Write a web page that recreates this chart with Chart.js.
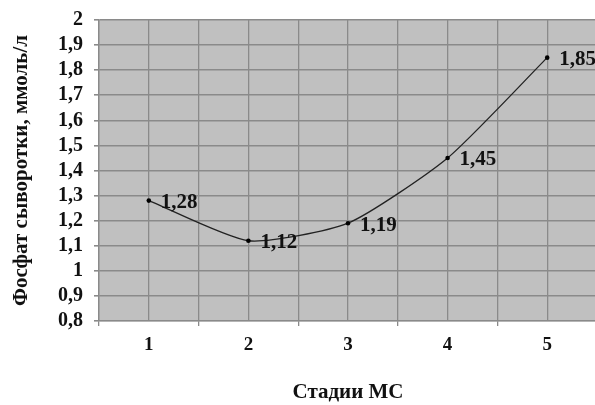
<!DOCTYPE html>
<html>
<head>
<meta charset="utf-8">
<script src="https://cdn.jsdelivr.net/npm/chart.js@4/dist/chart.umd.min.js"></script>
<style>
  html, body { margin: 0; padding: 0; background: #fff; overflow: hidden; }
  #wrap { position: relative; width: 602px; height: 405px; }
</style>
</head>
<body>
<div id="wrap"><canvas id="c"></canvas></div>
<script>
// Stages of the disease and the mean serum phosphate at each stage
const stages = [1, 2, 3, 4, 5];
const phosphate = [1.28, 1.12, 1.19, 1.45, 1.85];
const yTicks = [0.8, 0.9, 1.0, 1.1, 1.2, 1.3, 1.4, 1.5, 1.6, 1.7, 1.8, 1.9, 2.0];

const FONT = '"Liberation Serif", "Times New Roman", serif';
const fmt = v => String(Math.round(v * 100) / 100).replace('.', ',');

// Grey plotting area behind the grid
const plotBg = {
  id: 'plotBg',
  beforeDraw(chart) {
    const { ctx, chartArea: a } = chart;
    ctx.save();
    ctx.fillStyle = '#c0c0c0';
    ctx.fillRect(a.left, a.top, a.right - a.left, a.bottom - a.top);
    ctx.restore();
  }
};

// Value written to the right of each point
const valueLabels = {
  id: 'valueLabels',
  afterDatasetsDraw(chart) {
    const { ctx } = chart;
    const meta = chart.getDatasetMeta(0);
    ctx.save();
    ctx.font = 'bold 21px ' + FONT;
    ctx.fillStyle = '#111';
    ctx.textAlign = 'left';
    ctx.textBaseline = 'middle';
    meta.data.forEach((pt, i) => {
      ctx.fillText(fmt(phosphate[i]), pt.x + 12, pt.y + 2);
    });
    ctx.restore();
  }
};

new Chart(document.getElementById('c'), {
  type: 'line',
  data: {
    datasets: [{
      data: stages.map((s, i) => ({ x: s, y: phosphate[i] })),
      borderColor: '#222',
      borderWidth: 1.3,
      pointRadius: 2.3,
      pointBackgroundColor: '#000',
      pointBorderColor: '#000',
      pointBorderWidth: 0,
      tension: 0.2,
      fill: false
    }]
  },
  options: {
    responsive: true,
    maintainAspectRatio: false,
    animation: false,
    events: [],
    layout: { padding: { top: 20, right: 5, left: 0, bottom: 0 } },
    plugins: { legend: { display: false }, tooltip: { enabled: false } },
    scales: {
      x: {
        type: 'linear',
        min: 0.5,
        max: 5.5,
        afterBuildTicks(scale) {
          const t = [];
          for (let v = 0.5; v <= 5.5001; v += 0.5) t.push({ value: Math.round(v * 10) / 10 });
          scale.ticks = t;
        },
        afterFit(scale) {
          scale.height = 84;
          scale.paddingLeft = 0;
          scale.paddingRight = 0;
        },
        grid: {
          color: '#8a8a8a',
          lineWidth: 1.3,
          tickLength: 5,
          tickColor: ctx => (ctx.tick && Number.isInteger(ctx.tick.value)) ? 'rgba(0,0,0,0)' : '#8a8a8a'
        },
        border: { color: '#8a8a8a', width: 1.3 },
        ticks: {
          autoSkip: false,
          maxRotation: 0,
          padding: 8,
          color: '#111',
          font: { family: FONT, size: 19, weight: 'bold' },
          callback: v => Number.isInteger(v) ? String(v) : ''
        },
        title: {
          display: true,
          text: 'Стадии МС',
          color: '#111',
          font: { family: FONT, size: 21, weight: 'bold' },
          padding: { top: 20, bottom: 0 }
        }
      },
      y: {
        type: 'linear',
        min: 0.8,
        max: 2.0,
        afterBuildTicks(scale) { scale.ticks = yTicks.map(v => ({ value: v })); },
        afterFit(scale) {
          scale.width = 99;
          scale.paddingTop = 0;
          scale.paddingBottom = 0;
        },
        grid: {
          color: '#8a8a8a',
          lineWidth: 1.6,
          tickLength: 5
        },
        border: { color: '#8a8a8a', width: 1.3 },
        ticks: {
          autoSkip: false,
          padding: 11,
          color: '#111',
          font: { family: FONT, size: 20, weight: 'bold' },
          callback: v => fmt(v)
        },
        title: {
          display: true,
          text: 'Фосфат сыворотки, ммоль/л',
          color: '#111',
          font: { family: FONT, size: 21, weight: 'bold' },
          padding: { top: 9, bottom: 0 }
        }
      }
    }
  },
  plugins: [plotBg, valueLabels]
});
</script>
</body>
</html>
